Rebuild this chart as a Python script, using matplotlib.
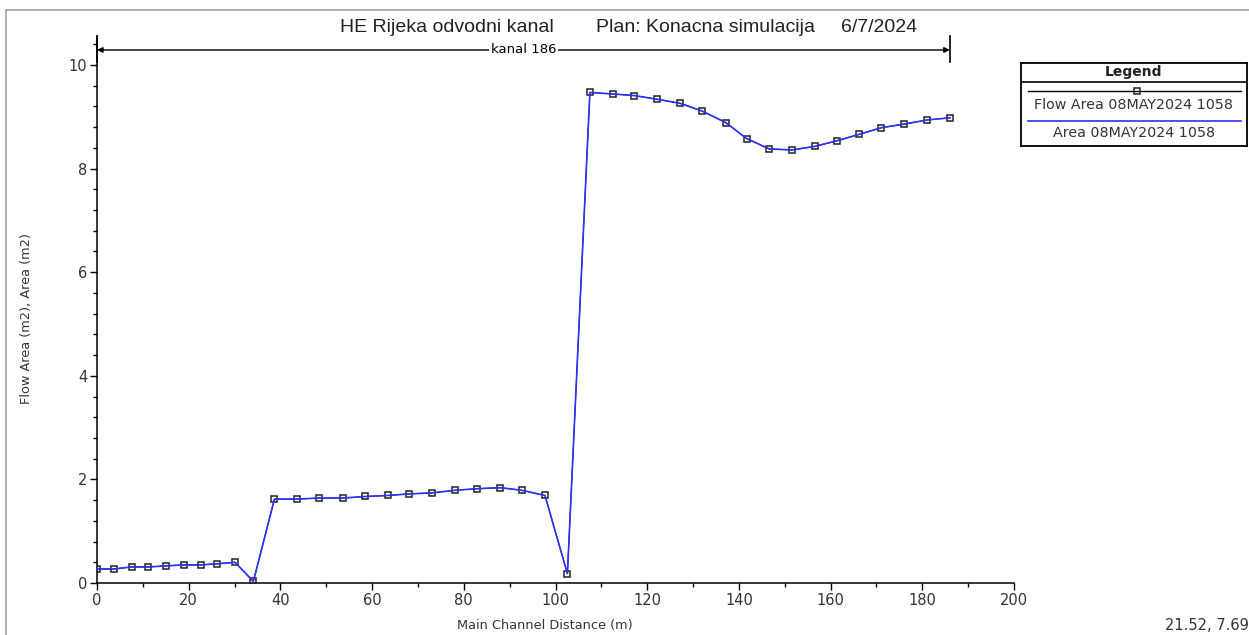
"""HE Rijeka odvodni kanal - flow area profile."""

import matplotlib

matplotlib.use("Agg")
import matplotlib.pyplot as plt
from matplotlib.lines import Line2D
from matplotlib.ticker import AutoMinorLocator, MultipleLocator

plt.rcParams["font.family"] = ["DejaVu Sans"]

# Main channel distance (m) and flow area (m2)
distance = [
    0.0, 3.6, 7.6, 11.2, 15.0, 19.0, 22.7, 26.2, 30.1, 34.1,
    38.7, 43.6, 48.5, 53.6, 58.5, 63.5, 68.1, 73.1, 78.1, 82.9,
    88.0, 92.6, 97.7, 102.6,
    107.5, 112.6, 117.2, 122.1, 127.2, 132.0, 137.1, 141.7, 146.6,
    151.6, 156.6, 161.5, 166.2, 171.1, 176.1, 181.1, 186.0,
]
flow_area = [
    0.27, 0.27, 0.31, 0.31, 0.33, 0.35, 0.35, 0.37, 0.40, 0.03,
    1.62, 1.62, 1.64, 1.64, 1.67, 1.69, 1.72, 1.74, 1.79, 1.82,
    1.84, 1.79, 1.69, 0.18,
    9.47, 9.44, 9.41, 9.34, 9.26, 9.11, 8.89, 8.58, 8.38,
    8.36, 8.43, 8.54, 8.66, 8.79, 8.86, 8.94, 8.98,
]
area = flow_area

reach_name = "kanal 186"
reach_start, reach_end = 0.0, 186.0
flow_label = "Flow Area 08MAY2024 1058"
area_label = "Area 08MAY2024 1058"
title_parts = ["HE Rijeka odvodni kanal", "Plan: Konacna simulacija", "6/7/2024"]

W, H = 1249, 635
fig = plt.figure(figsize=(W / 100, H / 100), dpi=100)
ax = fig.add_axes([97 / W, 52 / H, 917 / W, 547 / H])

ax.plot(distance, flow_area, color="black", lw=0.7, marker="s", ms=5,
        mfc="none", mec="#222222", mew=1.1, zorder=3)
ax.plot(distance, area, color="#2f2fff", lw=1.2, zorder=4)

ax.set_xlim(0, 200)
ax.set_ylim(0, 10.56)
ax.xaxis.set_major_locator(MultipleLocator(20))
ax.xaxis.set_minor_locator(AutoMinorLocator(2))
ax.set_yticks([0, 2, 4, 6, 8, 10])
ax.yaxis.set_minor_locator(AutoMinorLocator(5))
ax.tick_params(which="major", length=5, width=1, labelsize=10.5, pad=2,
               labelcolor="#333333")
ax.tick_params(which="minor", length=3, width=1)
for side in ("top", "right"):
    ax.spines[side].set_visible(False)
for side in ("left", "bottom"):
    ax.spines[side].set_linewidth(1.1)

# reach bracket
for xb in (reach_start, reach_end):
    ax.plot([xb, xb], [10.05, 10.56], color="black", lw=1.2, clip_on=False)
ax.annotate("", xy=(reach_start, 10.29), xytext=(reach_end, 10.29),
            arrowprops=dict(arrowstyle="<|-|>", color="black", lw=1.0,
                            shrinkA=0, shrinkB=0, mutation_scale=8),
            annotation_clip=False)
ax.text((reach_start + reach_end) / 2, 10.29, reach_name, ha="center",
        va="center", fontsize=9.5,
        bbox=dict(facecolor="white", edgecolor="none", pad=1.5))

for part, xpix in zip(title_parts, (340, 596, 841)):
    fig.text(xpix / W, 1 - 27 / H, part, ha="left", va="center",
             fontsize=14, family="Liberation Sans", color="#222222")
fig.text(545 / W, 1 - 625 / H, "Main Channel Distance (m)",
         ha="center", va="center", fontsize=9.3, color="#333333")
fig.text(27 / W, 1 - 318 / H, "Flow Area (m2), Area (m2)",
         ha="center", va="center", rotation=90, fontsize=9.3,
         color="#333333")
fig.text(1165 / W, 1 - 625 / H, "21.52, 7.69", ha="left", va="center",
         fontsize=10.5, color="#333333")

# outer frame lines
fig.add_artist(Line2D([6 / W, 1], [1 - 10 / H, 1 - 10 / H],
                      color="#a0a0a0", lw=1.2))
fig.add_artist(Line2D([6 / W, 6 / W], [0, 1 - 10 / H],
                      color="#a0a0a0", lw=1.2))

# legend box
lg = fig.add_axes([1021 / W, (H - 146) / H, 226 / W, 83 / H])
lg.set_xlim(0, 1)
lg.set_ylim(0, 1)
lg.set_xticks([])
lg.set_yticks([])
for sp in lg.spines.values():
    sp.set_linewidth(1.3)
lg.text(0.5, 0.89, "Legend", ha="center", va="center", fontsize=10,
        fontweight="bold", color="#222222")
lg.axhline(0.771, color="black", lw=1.2)
lg.plot([0.03, 0.975], [0.663, 0.663], color="black", lw=1.0)
lg.plot([0.513], [0.663], marker="s", ms=5, mfc="none", mec="#222222",
        mew=1.1)
lg.text(0.5, 0.494, flow_label, ha="center", va="center", fontsize=10.3,
        color="#333333")
lg.plot([0.03, 0.975], [0.30, 0.30], color="#2f2fff", lw=1.2)
lg.text(0.5, 0.157, area_label, ha="center", va="center", fontsize=10.3,
        color="#333333")

fig.savefig("out.png", dpi=100)
